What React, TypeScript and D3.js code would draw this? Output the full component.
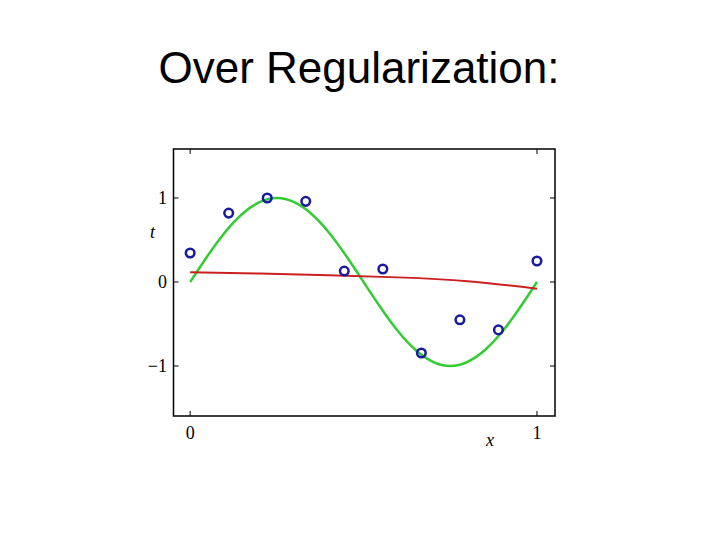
import React from "react";
import * as d3 from "d3";

const pointX = [0, 1 / 9, 2 / 9, 3 / 9, 4 / 9, 5 / 9, 6 / 9, 7 / 9, 8 / 9, 1];
const pointY = [0.345, 0.82, 1.0, 0.96, 0.13, 0.155, -0.845, -0.45, -0.57, 0.25];

const greenX = [0, 0.05, 0.1, 0.15, 0.2, 0.25, 0.3, 0.35, 0.4, 0.45, 0.5, 0.55, 0.6, 0.65, 0.7, 0.75, 0.8, 0.85, 0.9, 0.95, 1];
const greenY = [0, 0.31, 0.59, 0.81, 0.95, 1.0, 0.95, 0.81, 0.59, 0.31, 0, -0.31, -0.59, -0.81, -0.95, -1.0, -0.95, -0.81, -0.59, -0.31, 0];

const redX = [0, 0.2, 0.4, 0.6, 0.8, 1];
const redY = [0.115, 0.1, 0.08, 0.055, 0.01, -0.08];

const yTicks = [-1, 0, 1];
const xTicks = [0, 1];
const title = "Over Regularization:";

export default function App() {
  const left = 173.5, right = 555, top = 149, bottom = 416;
  const x = d3.scaleLinear().domain([-0.048, 1.052]).range([left, right]);
  const y = d3.scaleLinear().domain([-1.595, 1.583]).range([bottom, top]);
  const line = d3.line<[number, number]>().x(d => x(d[0])).y(d => y(d[1])).curve(d3.curveNatural);
  const green = line(greenX.map((v, i) => [v, greenY[i]] as [number, number]));
  const red = line(redX.map((v, i) => [v, redY[i]] as [number, number]));
  const fmt = (v: number) => (v < 0 ? "\u2212" + Math.abs(v) : String(v));
  const serif = "Liberation Serif, Times New Roman, serif";
  return (
    <svg width={720} height={540} style={{ position: "absolute", left: 0, top: 0, background: "#fff" }}>
      <text x={359} y={83} textAnchor="middle" fontFamily="Liberation Sans, Arial, sans-serif" fontSize={44} fill="#000">{title}</text>
      <rect x={left} y={top} width={right - left} height={bottom - top} fill="none" stroke="#000" strokeWidth={1.5} />
      {yTicks.map(t => (
        <g key={"y" + t}>
          <line x1={left} x2={left + 5} y1={y(t)} y2={y(t)} stroke="#000" strokeWidth={1} />
          <line x1={right} x2={right - 5} y1={y(t)} y2={y(t)} stroke="#000" strokeWidth={1} />
          <text x={167} y={y(t)} dy="0.35em" textAnchor="end" fontFamily={serif} fontSize={18} fill="#000">{fmt(t)}</text>
        </g>
      ))}
      {xTicks.map(t => (
        <g key={"x" + t}>
          <line x1={x(t)} x2={x(t)} y1={bottom} y2={bottom - 5} stroke="#000" strokeWidth={1} />
          <line x1={x(t)} x2={x(t)} y1={top} y2={top + 5} stroke="#000" strokeWidth={1} />
          <text x={x(t)} y={439} textAnchor="middle" fontFamily={serif} fontSize={18} fill="#000">{fmt(t)}</text>
        </g>
      ))}
      <text x={152.5} y={238} textAnchor="middle" fontFamily={serif} fontStyle="italic" fontSize={18} fill="#000">t</text>
      <text x={490} y={446} textAnchor="middle" fontFamily={serif} fontStyle="italic" fontSize={18} fill="#000">x</text>
      <path d={green || ""} fill="none" stroke="#33cc33" strokeWidth={2.5} />
      <path d={red || ""} fill="none" stroke="#cc2020" strokeWidth={2} />
      {pointX.map((v, i) => (
        <circle key={i} cx={x(v)} cy={y(pointY[i])} r={4.3} fill="none" stroke="#1a1aa0" strokeWidth={2.5} />
      ))}
    </svg>
  );
}
